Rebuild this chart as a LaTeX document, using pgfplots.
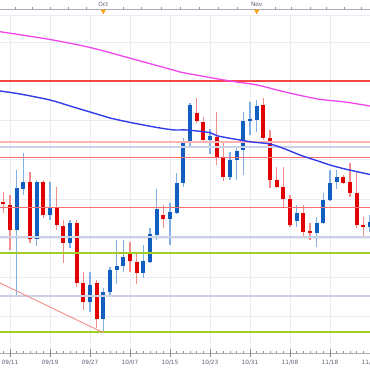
\documentclass[border=0pt]{standalone}
\usepackage{pgfplots}
\pgfplotsset{compat=1.18}
\usepackage{pgfplotstable}
\usepackage{fontspec}
\setmainfont{DejaVu Sans}
\definecolor{upbody}{RGB}{16,94,192}
\definecolor{dnbody}{RGB}{226,0,0}
\definecolor{upwick}{RGB}{130,175,230}
\definecolor{dnwick}{RGB}{245,140,140}
\definecolor{gridc}{RGB}{234,236,242}
\definecolor{strongred}{RGB}{245,70,70}
\definecolor{pinkl}{RGB}{255,178,178}
\definecolor{thinred}{RGB}{248,110,110}
\definecolor{lav}{RGB}{204,208,228}
\definecolor{greenl}{RGB}{160,205,40}
\definecolor{magma}{RGB}{240,70,235}
\definecolor{bluema}{RGB}{50,60,235}
\definecolor{axc}{RGB}{170,172,182}
\definecolor{labc}{RGB}{95,95,115}
\definecolor{orng}{RGB}{250,160,30}

\pgfplotstableread{
i hi top bot lo
1 200 181.7 140 75
2 216.7 188.3 181 175
4 190 188.3 130.7 124
6 188.3 163.3 155 150
9 150 146.7 126.7 122
12 98.3 85 68.3 58.3
14 81.7 78.3 50.7 36.7
15 103.3 100 78.3 75
16 130 103.5 99.5 86
17 130 113 103.5 98.3
20 125 109 96.7 91.7
21 142 135.5 108.3 107
22 181 160.5 135 130
24 166.7 157.5 150.8 125
25 196.7 187.3 157.3 156
26 231.7 229.3 187.3 183.3
27 267 265 229 223.3
30 240.7 234 230 216
33 218.3 210 193.3 190
34 223.3 219.3 210 190
35 258 249 219.5 195
36 268.3 250.7 249 235
37 270 264 250 238.3
43 165 157.3 149.3 143.3
46 153.3 147.3 136.7 123.3
47 176.7 170 147.3 146
48 200 187.3 170 169
49 200 192.7 187.7 180.7
54 155 148.3 142.7 138
}\bluetab

\pgfplotstableread{
i hi top bot lo
-1 178.3 168.3 166 157
0 175 165 140 120
3 198.3 188.3 130.7 127
5 190 188 155 152
7 183.3 163.3 145 140
8 150 144 126.7 107
10 150 146.7 86.7 83.3
11 98.3 86.7 68.3 60
13 90 86.7 50.7 41.7
18 128.3 116 109 98.3
19 118.3 108.3 96.7 85.7
23 164.5 154.5 150.8 141.7
28 271.7 256.7 249.3 246.7
29 253.3 248.3 230 226.7
31 258.3 233.3 213.3 205
32 226.7 213.3 193.3 189.3
38 271.7 265 231.7 230
39 240 231.7 190 181.7
40 203.3 190 183.3 181.7
41 202.7 183.3 170.7 161.7
42 175 170.7 145 143.3
44 165 157.3 138.3 133.3
45 146.7 139 136.7 130
50 195 192.7 187.3 186
51 207.3 188.3 176.7 173.3
52 198.3 177.3 145 141.7
53 153.3 145 142.7 133.3
}\redtab

\pgfplotsset{candle/.style={forget plot, only marks, mark=*, mark size=0pt,
  mark options={draw=none, fill=none},
  error bars/.cd, y dir=both, y explicit, error mark=none}}

\begin{document}
\begin{tikzpicture}
\begin{axis}[
  scale only axis, width=370pt, height=370pt,
  xmin=-1.5, xmax=54, ymin=0, ymax=370,
  hide axis, clip=false,
]
% vertical grid
\pgfplotsinvokeforeach{0,6,12,18,24,30,36,42,48,54}{
  \draw[gridc, line width=0.8pt] (axis cs:#1,17) -- (axis cs:#1,355);
}
% horizontal grid
\pgfplotsinvokeforeach{328,288.8,249.5,210.3,171,131.8,92.6,53.3}{
  \draw[gridc, line width=0.8pt] (axis cs:-1.5,#1) -- (axis cs:54,#1);
}
% top band
\draw[gridc, line width=0.8pt] (axis cs:-1.5,355) -- (axis cs:54,355);
\draw[axc, line width=0.8pt] (axis cs:-1.5,360.5) -- (axis cs:54,360.5);
\pgfplotsinvokeforeach{0.75,3.4,6.1,8.75,11.4,17.05,19.7,22.7,25.55,28.4,31.3,34.05,39.75,42.25,45,47.5,50.15,52.75}{
  \draw[axc!85!black, line width=0.6pt] (axis cs:#1,360.5) -- (axis cs:#1,362.6);
}

% wicks
\addplot[candle, error bar style={line width=1.1pt, upwick}]
  table[x=i, y expr={(\thisrow{hi}+\thisrow{lo})/2}, y error expr={(\thisrow{hi}-\thisrow{lo})/2}]{\bluetab};
\addplot[candle, error bar style={line width=1.1pt, dnwick}]
  table[x=i, y expr={(\thisrow{hi}+\thisrow{lo})/2}, y error expr={(\thisrow{hi}-\thisrow{lo})/2}]{\redtab};
% bodies
\addplot[candle, error bar style={line width=4.2pt, upbody}]
  table[x=i, y expr={(\thisrow{top}+\thisrow{bot})/2}, y error expr={max((\thisrow{top}-\thisrow{bot})/2,1)}]{\bluetab};
\addplot[candle, error bar style={line width=4.2pt, dnbody}]
  table[x=i, y expr={(\thisrow{top}+\thisrow{bot})/2}, y error expr={max((\thisrow{top}-\thisrow{bot})/2,1)}]{\redtab};

% level lines
\addplot[strongred, line width=1.3pt] coordinates {(-1.5,289) (54,289)};
\addplot[pinkl, line width=2pt] coordinates {(-1.5,228.3) (54,228.3)};
\addplot[lav, line width=1.8pt] coordinates {(-1.5,223) (54,223)};
\addplot[thinred, line width=0.9pt] coordinates {(-1.5,212.7) (54,212.7)};
\addplot[thinred, line width=0.9pt] coordinates {(-1.5,162.7) (54,162.7)};
\addplot[lav, line width=1.8pt] coordinates {(-1.5,133.3) (54,133.3)};
\addplot[greenl, line width=2.2pt] coordinates {(-1.5,117.3) (54,117.3)};
\addplot[lav, line width=1.8pt] coordinates {(-1.5,74) (54,74)};
\addplot[greenl, line width=2.2pt] coordinates {(-1.5,38.3) (54,38.3)};
% trend line
\addplot[dnwick, line width=0.9pt] coordinates {(-1.5,87) (14,37.3)};

% moving averages
\addplot[magma, line width=1.3pt, smooth] coordinates {
(-1.5,338.3) (6,330.5) (12,322.5) (18.45,311) (24.45,300) (26.25,297)
(33,289) (37.05,285) (41.25,278) (46.2,271) (50.25,268) (54,264)};
\addplot[bluema, line width=1.4pt, smooth] coordinates {
(-1.5,279) (1.5,276) (6,270) (9,264) (13.5,255) (15,252) (18.45,247)
(22.5,242) (24.75,240) (26.55,240) (30,237.3) (31.2,234) (34.5,230)
(36.3,228) (39,226) (41.25,221) (43.5,215) (46.2,209) (48,205)
(50.25,201) (54,195.5)};

% bottom axis
\draw[axc, line width=0.8pt] (axis cs:-1.5,17) -- (axis cs:54,17);
\pgfplotsinvokeforeach{-1,0,...,54}{
  \draw[axc!85!black, line width=0.6pt] (axis cs:#1,17) -- (axis cs:#1,19.3);
}
\pgfplotsinvokeforeach{0,6,12,18,24,30,36,42,48,54}{
  \draw[axc!80!black, line width=0.8pt] (axis cs:#1,13) -- (axis cs:#1,21);
}
\begin{scope}[every node/.style={font=\fontsize{5.8}{6}\selectfont, text=labc, inner sep=0pt}]
\node at (axis cs:0,7) {09/11};
\node at (axis cs:6,7) {09/19};
\node at (axis cs:12,7) {09/27};
\node at (axis cs:18,7) {10/07};
\node at (axis cs:24,7) {10/15};
\node at (axis cs:30,7) {10/23};
\node at (axis cs:36,7) {10/31};
\node at (axis cs:42,7) {11/08};
\node at (axis cs:48,7) {11/18};
\node at (axis cs:54,7) {11/26};
\node at (axis cs:14,365.6) {Oct};
\node at (axis cs:37,365.6) {Nov};
\end{scope}
% month markers
\addplot[only marks, mark=triangle*, mark size=2.6pt,
  mark options={rotate=180, fill=orng, draw=orng}] coordinates {(14,358.8) (37,358.8)};
\end{axis}
\pgfresetboundingbox
\useasboundingbox (current axis.south west) rectangle (current axis.north east);
\end{tikzpicture}
\end{document}
